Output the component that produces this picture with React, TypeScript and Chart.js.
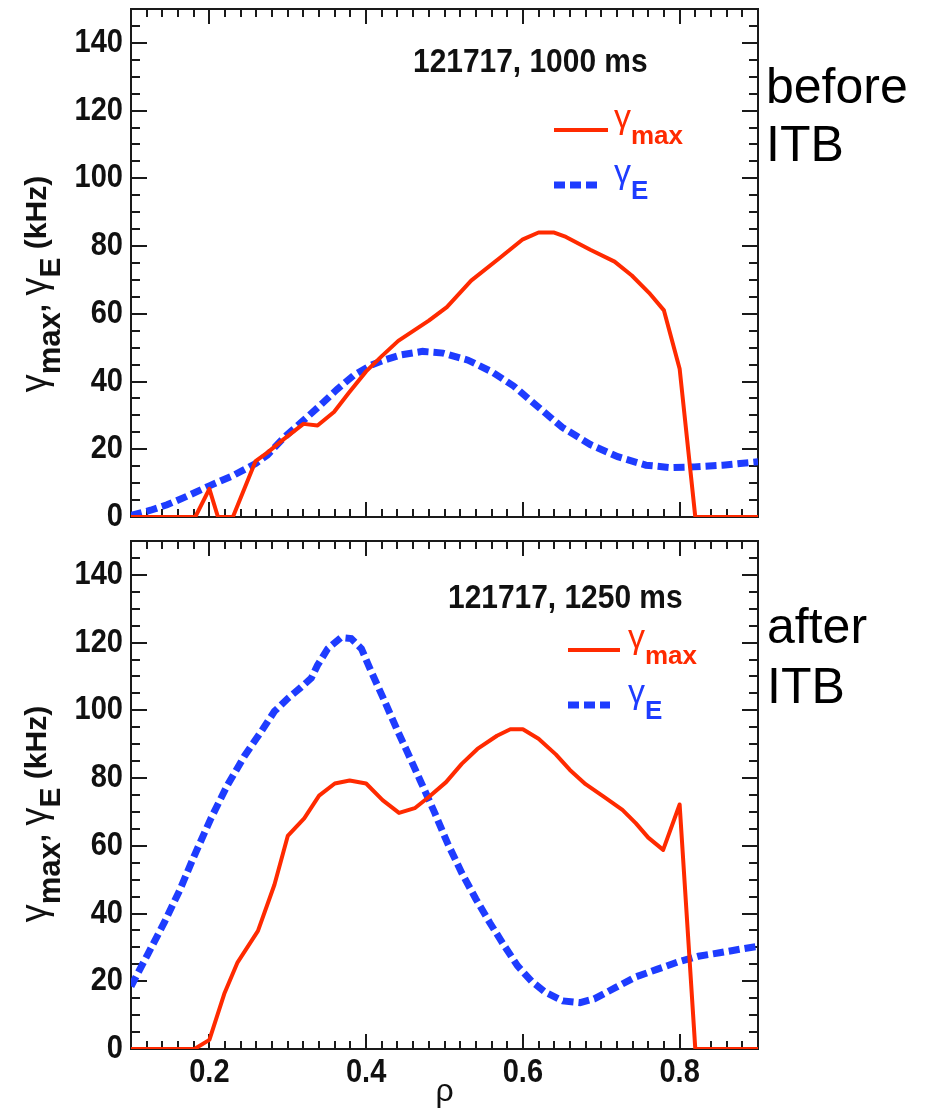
import React, { useEffect, useRef } from 'react';
import { Chart, registerables } from 'chart.js';

Chart.register(...registerables);

// ---------- data ----------
const rhoTopMax = [0.1, 0.182, 0.2, 0.211, 0.23, 0.259, 0.274, 0.295, 0.32, 0.338, 0.359, 0.378, 0.4, 0.42, 0.441, 0.48, 0.503, 0.534, 0.57, 0.6, 0.62, 0.64, 0.655, 0.686, 0.717, 0.739, 0.761, 0.78, 0.8, 0.82, 0.9];
const gammaMaxTop = [0, 0, 8.3, 0, 0, 16.5, 19, 23, 27.5, 27, 31, 36.7, 43, 47.5, 52, 58, 62, 69.8, 76.4, 82, 84, 84, 82.7, 78.9, 75.4, 71.3, 66.2, 61, 43.8, 0, 0];

const rhoTopE = [0.1, 0.125, 0.146, 0.171, 0.2, 0.23, 0.259, 0.274, 0.295, 0.32, 0.342, 0.363, 0.384, 0.406, 0.423, 0.445, 0.472, 0.498, 0.53, 0.561, 0.588, 0.619, 0.65, 0.686, 0.721, 0.757, 0.788, 0.819, 0.855, 0.9];
const gammaETop = [0.5, 2, 3.6, 6.1, 9.2, 12.2, 15.8, 18.3, 23.4, 28.5, 33.1, 37.7, 41.8, 44.8, 46.3, 47.9, 48.9, 48.4, 46.3, 42.8, 38.7, 32.6, 26.5, 21.4, 17.8, 15.3, 14.6, 14.8, 15.3, 16.3];

const rhoBotMax = [0.1, 0.181, 0.2, 0.219, 0.236, 0.262, 0.283, 0.3, 0.321, 0.34, 0.36, 0.379, 0.4, 0.421, 0.442, 0.462, 0.48, 0.502, 0.522, 0.542, 0.567, 0.584, 0.6, 0.62, 0.642, 0.66, 0.68, 0.704, 0.727, 0.744, 0.76, 0.779, 0.8, 0.82, 0.9];
const gammaMaxBot = [0, 0, 2.7, 16.3, 25.6, 34.9, 48.5, 62.9, 68.1, 74.8, 78.4, 79.3, 78.4, 73.5, 69.7, 71.1, 74.4, 78.8, 84.2, 88.6, 92.5, 94.4, 94.4, 91.6, 87, 82.4, 78.2, 74.4, 70.6, 66.7, 62.4, 58.8, 72.2, 0, 0];

const rhoBotE = [0.1, 0.121, 0.143, 0.162, 0.181, 0.202, 0.223, 0.245, 0.266, 0.283, 0.3, 0.317, 0.33, 0.338, 0.351, 0.368, 0.381, 0.394, 0.406, 0.423, 0.44, 0.451, 0.469, 0.487, 0.504, 0.522, 0.54, 0.558, 0.576, 0.593, 0.611, 0.629, 0.651, 0.673, 0.691, 0.718, 0.744, 0.771, 0.798, 0.824, 0.851, 0.878, 0.9];
const gammaEBot = [18.5, 27.8, 37.6, 46.8, 57.2, 68.1, 77.9, 86.6, 93.7, 99.7, 103.5, 106.8, 109.5, 113.3, 118.2, 121.5, 121.2, 118.2, 111.7, 103, 94, 88.5, 79.3, 70, 60.7, 52, 44.3, 37.2, 30.6, 24.6, 20, 16.7, 14.2, 13.7, 14.8, 18.1, 21.3, 23.5, 25.7, 27.4, 28.4, 29.5, 30.3];

const xTickValues = [0.2, 0.4, 0.6, 0.8];
const xTickLabels = ['0.2', '0.4', '0.6', '0.8'];
const yTickValues = [0, 20, 40, 60, 80, 100, 120, 140];
const yTickLabels = ['0', '20', '40', '60', '80', '100', '120', '140'];
const panelTitles = ['121717, 1000 ms', '121717, 1250 ms'];
const sideLabelsTop = ['before', 'ITB'];
const sideLabelsBot = ['after', 'ITB'];
const legendMain = ['γ', 'γ'];
const legendSubs = ['max', 'E'];
const xAxisTitle = 'ρ';

// ---------- styling ----------
const RED = '#ff2a00';
const BLUE = '#1e3cff';
const INK = '#111111';
const SANS = "'Liberation Sans', Arial, Helvetica, sans-serif";
const SQUEEZE = 0.88;

const W = 927;
const AREA_LEFT = 131;
const AREA_RIGHT = 758;

interface PanelSpec {
  canvasTop: number;
  canvasHeight: number;
  areaTop: number;
  areaBottom: number;
  showX: boolean;
  rhoMax: number[];
  gMax: number[];
  rhoE: number[];
  gE: number[];
  title: string;
  titleX: number;
  titleY: number;
  legLine: [number, number];
  legBlueEnd: number;
  legTextX: number;
  legY: [number, number];
  side: string[];
  sideX: number;
  sideY: [number, number];
  yTitleCenter: number;
}

const panels: PanelSpec[] = [
  {
    canvasTop: 0, canvasHeight: 530, areaTop: 9, areaBottom: 517, showX: false,
    rhoMax: rhoTopMax, gMax: gammaMaxTop, rhoE: rhoTopE, gE: gammaETop,
    title: panelTitles[0], titleX: 413, titleY: 72,
    legLine: [554, 608], legBlueEnd: 597, legTextX: 614, legY: [130, 185],
    side: sideLabelsTop, sideX: 766, sideY: [103, 161],
    yTitleCenter: 284,
  },
  {
    canvasTop: 530, canvasHeight: 579, areaTop: 541, areaBottom: 1049, showX: true,
    rhoMax: rhoBotMax, gMax: gammaMaxBot, rhoE: rhoBotE, gE: gammaEBot,
    title: panelTitles[1], titleX: 448, titleY: 608,
    legLine: [568, 620], legBlueEnd: 610, legTextX: 628, legY: [650, 705],
    side: sideLabelsBot, sideX: 767, sideY: [643, 703],
    yTitleCenter: 814,
  },
];

function pts(xs: number[], ys: number[]) {
  return xs.map((x, i) => ({ x, y: ys[i] }));
}

function drawRich(ctx: CanvasRenderingContext2D, segs: { t: string; font: string; dy: number }[], x: number, y: number, color: string, center = false) {
  let total = 0;
  for (const s of segs) { ctx.font = s.font; total += ctx.measureText(s.t).width; }
  let cx = center ? x - total / 2 : x;
  ctx.fillStyle = color;
  ctx.textBaseline = 'alphabetic';
  ctx.textAlign = 'left';
  for (const s of segs) {
    ctx.font = s.font;
    ctx.fillText(s.t, cx, y + s.dy);
    cx += ctx.measureText(s.t).width;
  }
}

function squeezedText(ctx: CanvasRenderingContext2D, text: string, x: number, y: number, align: CanvasTextAlign) {
  ctx.save();
  ctx.translate(x, y);
  ctx.scale(SQUEEZE, 1);
  ctx.textAlign = align;
  ctx.textBaseline = 'alphabetic';
  ctx.fillText(text, 0, 0);
  ctx.restore();
}

function makeDecor(p: PanelSpec) {
  const off = p.canvasTop;
  return {
    id: 'decor',
    beforeDatasetsDraw(chart: any) {
      const ctx: CanvasRenderingContext2D = chart.ctx;
      const { left, right, top, bottom } = chart.chartArea;
      const xs = chart.scales.x;
      const ys = chart.scales.y;
      ctx.save();
      ctx.strokeStyle = '#1a1a1a';
      ctx.lineWidth = 2;
      ctx.lineCap = 'butt';
      ctx.beginPath();
      for (let i = 6; i <= 44; i++) {
        const px = Math.round(xs.getPixelForValue(i / 50));
        const len = i % 10 === 0 ? 15 : 8;
        ctx.moveTo(px, bottom); ctx.lineTo(px, bottom - len);
        ctx.moveTo(px, top); ctx.lineTo(px, top + len);
      }
      for (let j = 1; j <= 29; j++) {
        const py = Math.round(ys.getPixelForValue(j * 5));
        const len = j % 4 === 0 ? 16 : 9;
        ctx.moveTo(left, py); ctx.lineTo(left + len, py);
        ctx.moveTo(right, py); ctx.lineTo(right - len, py);
      }
      ctx.stroke();
      ctx.strokeRect(left, top, right - left, bottom - top);
      ctx.restore();
    },
    afterDraw(chart: any) {
      const ctx: CanvasRenderingContext2D = chart.ctx;
      const { left, bottom } = chart.chartArea;
      const xs = chart.scales.x;
      const ys = chart.scales.y;
      ctx.save();
      ctx.fillStyle = INK;

      // tick labels (positions from the chart's own scales)
      ctx.font = `bold 33px ${SANS}`;
      yTickValues.forEach((v, i) => {
        squeezedText(ctx, yTickLabels[i], left - 8, ys.getPixelForValue(v) + 9, 'right');
      });
      if (p.showX) {
        xTickValues.forEach((v, i) => {
          squeezedText(ctx, xTickLabels[i], xs.getPixelForValue(v), bottom + 33, 'center');
        });
      }

      // shot / time annotation
      ctx.font = `bold 34px ${SANS}`;
      squeezedText(ctx, p.title, p.titleX, p.titleY - off, 'left');

      // legend
      const [lx0, lx1] = p.legLine;
      ctx.lineWidth = 4;
      ctx.strokeStyle = RED;
      ctx.beginPath();
      ctx.moveTo(lx0, p.legY[0] - off); ctx.lineTo(lx1, p.legY[0] - off);
      ctx.stroke();
      ctx.lineWidth = 7;
      ctx.strokeStyle = BLUE;
      ctx.setLineDash([11, 5]);
      ctx.beginPath();
      ctx.moveTo(lx0, p.legY[1] - off); ctx.lineTo(p.legBlueEnd, p.legY[1] - off);
      ctx.stroke();
      ctx.setLineDash([]);
      drawRich(ctx, [
        { t: legendMain[0], font: `34px ${SANS}`, dy: 0 },
        { t: legendSubs[0], font: `bold 26px ${SANS}`, dy: 16 },
      ], p.legTextX, p.legY[0] - 2 - off, RED);
      drawRich(ctx, [
        { t: legendMain[1], font: `34px ${SANS}`, dy: 0 },
        { t: legendSubs[1], font: `bold 26px ${SANS}`, dy: 16 },
      ], p.legTextX, p.legY[1] - 2 - off, BLUE);

      // side label
      ctx.font = `50px ${SANS}`;
      ctx.fillStyle = '#000';
      ctx.textAlign = 'left';
      ctx.fillText(p.side[0], p.sideX, p.sideY[0] - off);
      ctx.fillText(p.side[1], p.sideX, p.sideY[1] - off);

      // y-axis title (rotated)
      ctx.save();
      ctx.translate(46, p.yTitleCenter - off);
      ctx.rotate(-Math.PI / 2);
      drawRich(ctx, [
        { t: 'γ', font: `36px ${SANS}`, dy: 0 },
        { t: 'max', font: `bold 31px ${SANS}`, dy: 14 },
        { t: ', ', font: `bold 30px ${SANS}`, dy: 0 },
        { t: 'γ', font: `36px ${SANS}`, dy: 0 },
        { t: 'E', font: `bold 30px ${SANS}`, dy: 14 },
        { t: ' (kHz)', font: `bold 30px ${SANS}`, dy: 0 },
      ], 0, 0, INK, true);
      ctx.restore();

      // x-axis title
      if (p.showX) {
        ctx.font = `32px ${SANS}`;
        ctx.fillStyle = INK;
        ctx.textAlign = 'center';
        ctx.fillText(xAxisTitle, (AREA_LEFT + AREA_RIGHT) / 2, 1101 - off);
      }
      ctx.restore();
    },
  };
}

function buildConfig(p: PanelSpec): any {
  const xAxisHeight = p.canvasHeight - (p.areaBottom - p.canvasTop);
  return {
    type: 'line',
    data: {
      datasets: [
        {
          label: 'γmax', data: pts(p.rhoMax, p.gMax), borderColor: RED, borderWidth: 4,
          pointRadius: 0, fill: false, tension: 0, borderJoinStyle: 'round', borderCapStyle: 'butt',
        },
        {
          label: 'γE', data: pts(p.rhoE, p.gE), borderColor: BLUE, borderWidth: 7,
          borderDash: [11, 5], pointRadius: 0, fill: false, tension: 0, borderCapStyle: 'butt',
        },
      ],
    },
    options: {
      animation: false,
      responsive: false,
      maintainAspectRatio: false,
      events: [],
      layout: { padding: { left: 0, right: W - AREA_RIGHT, top: p.areaTop - p.canvasTop, bottom: 0 } },
      plugins: { legend: { display: false }, tooltip: { enabled: false }, title: { display: false } },
      scales: {
        x: {
          type: 'linear', min: 0.1, max: 0.9,
          grid: { display: false }, border: { display: false },
          afterBuildTicks: (s: any) => { s.ticks = xTickValues.map((v) => ({ value: v })); },
          ticks: { display: false },
          afterFit: (s: any) => { s.height = xAxisHeight; s.paddingLeft = 0; s.paddingRight = 0; },
        },
        y: {
          type: 'linear', min: 0, max: 150,
          grid: { display: false }, border: { display: false },
          afterBuildTicks: (s: any) => { s.ticks = yTickValues.map((v) => ({ value: v })); },
          ticks: { display: false },
          afterFit: (s: any) => { s.width = AREA_LEFT; s.paddingTop = 0; s.paddingBottom = 0; },
        },
      },
    },
    plugins: [makeDecor(p)],
  };
}

function Panel({ spec }: { spec: PanelSpec }) {
  const ref = useRef<HTMLCanvasElement>(null);
  useEffect(() => {
    if (!ref.current) return;
    const chart = new Chart(ref.current, buildConfig(spec));
    return () => chart.destroy();
  }, [spec]);
  return (
    <canvas
      ref={ref}
      width={W}
      height={spec.canvasHeight}
      style={{ position: 'absolute', left: 0, top: spec.canvasTop, width: W, height: spec.canvasHeight }}
    />
  );
}

export default function App() {
  return (
    <div style={{ position: 'absolute', left: 0, top: 0, width: W, height: 1109, background: '#fff', overflow: 'hidden' }}>
      {panels.map((p, i) => <Panel key={i} spec={p} />)}
    </div>
  );
}
